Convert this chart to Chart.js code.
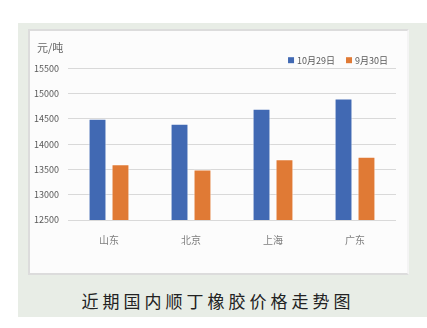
<!DOCTYPE html>
<html>
<head>
<meta charset="utf-8">
<script src="https://cdn.jsdelivr.net/npm/chart.js@4"></script>
<style>
  body { margin: 0; background: #fff; width: 427px; height: 328px; overflow: hidden; }
  .panel {
    position: absolute; left: 18px; top: 23px; width: 409px; height: 294px;
    background: #e8ede6;
  }
  .box {
    position: absolute; left: 10px; top: 6px; width: 377px; height: 242px;
    background: #fcfcfc; border: 2px solid #dcdcdc; border-right-color: #f4f4f4;
  }
  .caption {
    position: absolute; left: 0; top: 265px; width: 400px; text-align: center;
    font-family: "Noto Sans CJK SC", sans-serif; font-size: 17px; letter-spacing: 4px;
    color: #222;
  }
</style>
</head>
<body>
<div class="panel">
  <div class="box"><canvas id="priceChart" width="377" height="242"></canvas></div>
  <div class="caption">近期国内顺丁橡胶价格走势图</div>
</div>
<script>
// 顺丁橡胶各地报价 (元/吨)
const regions = ["山东", "北京", "上海", "广东"];
const oct29 = [14500, 14400, 14700, 14900];
const sep30 = [13600, 13500, 13700, 13750];
const seriesNames = ["10月29日", "9月30日"];
const yTicks = [12500, 13000, 13500, 14000, 14500, 15000, 15500];

const font = "'Noto Sans CJK SC', 'DejaVu Sans', sans-serif";

// small legend tucked into the top-right corner, just above the plot
const cornerLegend = {
  id: "cornerLegend",
  afterDraw(chart) {
    const ctx = chart.ctx;
    const y = chart.chartArea.top - 8;
    let x = chart.chartArea.right - 8;
    ctx.save();
    ctx.font = "9px " + font;
    ctx.textBaseline = "middle";
    chart.data.datasets.slice().reverse().forEach(ds => {
      x -= ctx.measureText(ds.label).width;
      ctx.fillStyle = "#595959";
      ctx.fillText(ds.label, x, y);
      x -= 9;
      ctx.fillStyle = ds.backgroundColor;
      ctx.fillRect(x, y - 3, 6, 6);
      x -= 11;
    });
    ctx.restore();
  }
};

new Chart(document.getElementById("priceChart"), {
  type: "bar",
  data: {
    labels: regions,
    datasets: [
      { label: seriesNames[0], data: oct29, backgroundColor: "#4169b3", borderColor: "rgba(255,255,255,0.7)", borderWidth: 1 },
      { label: seriesNames[1], data: sep30, backgroundColor: "#e07a35", borderColor: "rgba(255,255,255,0.7)", borderWidth: 1 }
    ]
  },
  plugins: [cornerLegend],
  options: {
    responsive: false,
    animation: false,
    layout: { padding: { left: 2, right: 11, top: 0, bottom: 21 } },
    datasets: { bar: { categoryPercentage: 0.56, barPercentage: 0.78 } },
    plugins: {
      title: {
        display: true, text: "  元/吨", align: "start", color: "#666",
        font: { family: font, size: 11, weight: "normal" },
        padding: { top: 10, bottom: 14 }
      },
      legend: { display: false },
      tooltip: { enabled: false }
    },
    scales: {
      x: {
        grid: { display: false },
        border: { display: false },
        ticks: { color: "#7f7f7f", font: { family: font, size: 10 }, padding: 6 }
      },
      y: {
        min: yTicks[0], max: yTicks[yTicks.length - 1],
        afterBuildTicks: (axis) => { axis.ticks = yTicks.map(v => ({ value: v })); },
        afterFit: (axis) => { axis.width = 36; },
        grid: { color: "#d9d9d9", drawTicks: false },
        border: { display: false },
        ticks: {
          color: "#595959", font: { family: font, size: 9 }, padding: 9,
          callback: (v) => String(v)
        }
      }
    }
  }
});
</script>
</body>
</html>
